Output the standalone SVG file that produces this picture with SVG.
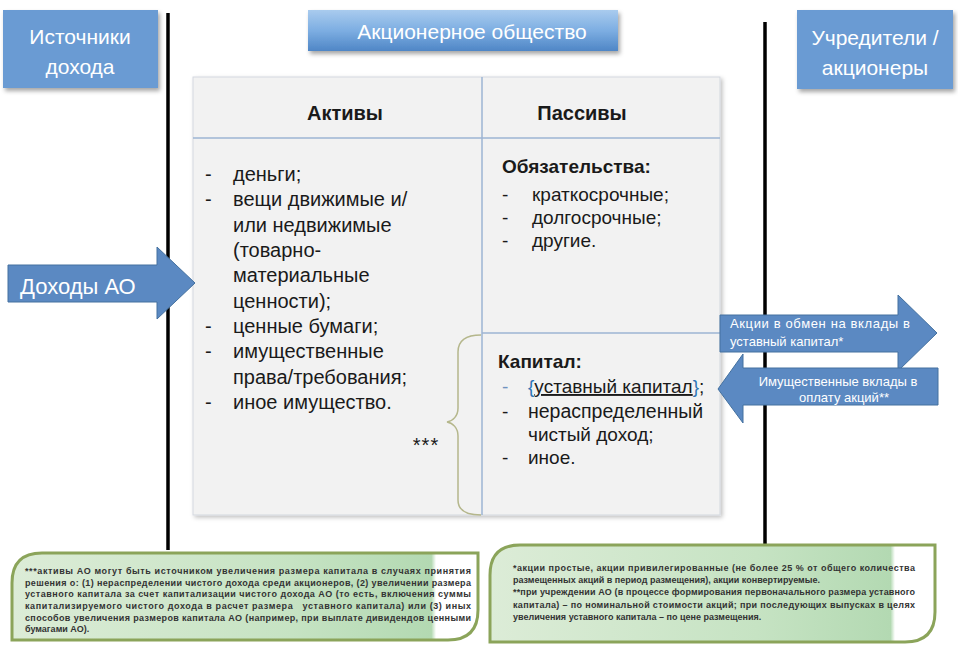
<svg xmlns="http://www.w3.org/2000/svg" width="958" height="650" viewBox="0 0 958 650">
<defs>
<filter id="sh" x="-10%" y="-10%" width="125%" height="130%"><feDropShadow dx="2" dy="3" stdDeviation="2" flood-color="#000" flood-opacity="0.35"/></filter>
<filter id="sh2" x="-5%" y="-5%" width="110%" height="110%"><feDropShadow dx="2" dy="2" stdDeviation="2" flood-color="#000" flood-opacity="0.25"/></filter>
<linearGradient id="gTop" x1="0" y1="0" x2="0" y2="1"><stop offset="0" stop-color="#A9CBEE"/><stop offset="0.5" stop-color="#7DAEE2"/><stop offset="1" stop-color="#4F86C6"/></linearGradient>
<linearGradient id="gGreen" x1="0" y1="0" x2="1" y2="0"><stop offset="0" stop-color="#DCECD7"/><stop offset="0.6" stop-color="#C6E3C3"/><stop offset="0.9" stop-color="#B3D9B2"/><stop offset="0.91" stop-color="#FFFFFF"/><stop offset="1" stop-color="#FFFFFF"/></linearGradient>
</defs>
<style>
.box{fill:#6B9BD3;}
.wt{fill:#FFFFFF;font-family:"Liberation Sans",Arial,sans-serif;}
.t{fill:#1A1A1A;font-family:"Liberation Sans",Arial,sans-serif;font-size:19px;}
.tl{font-size:20px;}
.b{font-weight:bold;}
.arrow{fill:#5B89C2;stroke:#44719F;stroke-width:1;}
.vline{stroke:#000;stroke-width:3.5;}
.div{stroke:#9DB5D3;stroke-width:1.5;fill:none;}
.note{fill:url(#gGreen);stroke:#8BA45A;stroke-width:3;}
.nt{fill:#333333;font-family:"Liberation Sans",Arial,sans-serif;font-size:9px;font-weight:bold;}
</style>

<g id="connectors">
<line class="vline" x1="168" y1="13" x2="168" y2="550"/>
<line class="vline" x1="765" y1="22" x2="765" y2="550"/>
</g>

<g id="sources">
<rect class="box" x="3" y="10" width="155" height="78" filter="url(#sh)"/>
<text class="wt" x="80" y="44" font-size="21" text-anchor="middle">Источники</text>
<text class="wt" x="80" y="74" font-size="21" text-anchor="middle">дохода</text>
</g>

<g id="company">
<rect x="308" y="10" width="310" height="41" fill="url(#gTop)" filter="url(#sh)"/>
<text class="wt" x="472" y="39" font-size="21" text-anchor="middle">Акционерное общество</text>
</g>

<g id="founders">
<rect class="box" x="797" y="10" width="156" height="79" filter="url(#sh)"/>
<text class="wt" x="875" y="45" font-size="21" text-anchor="middle">Учредители /</text>
<text class="wt" x="875" y="75" font-size="21" text-anchor="middle">акционеры</text>
</g>

<g id="balance">
<rect x="193" y="77" width="527" height="438" fill="#F2F2F2" stroke="#D3D8DF" stroke-width="1" filter="url(#sh2)"/>
<line class="div" x1="193" y1="138" x2="720" y2="138"/>
<line class="div" x1="482" y1="77" x2="482" y2="515"/>
<line class="div" x1="482" y1="333" x2="720" y2="333"/>
<text class="t tl b" x="345" y="120" text-anchor="middle">Активы</text>
<text class="t tl b" x="582" y="120" text-anchor="middle">Пассивы</text>
<g class="t tl">
<text x="205" y="181">-</text><text x="233" y="181">деньги;</text>
<text x="205" y="206">-</text><text x="233" y="206">вещи движимые и/</text>
<text x="233" y="232">или недвижимые</text>
<text x="233" y="257">(товарно-</text>
<text x="233" y="282">материальные</text>
<text x="233" y="308">ценности);</text>
<text x="205" y="333">-</text><text x="233" y="333">ценные бумаги;</text>
<text x="205" y="358">-</text><text x="233" y="358">имущественные</text>
<text x="233" y="384">права/требования;</text>
<text x="205" y="409">-</text><text x="233" y="409">иное имущество.</text>
</g>
<g class="t">
<text class="b" x="502" y="173">Обязательства:</text>
<text x="502" y="201">-</text><text x="532" y="201">краткосрочные;</text>
<text x="502" y="224">-</text><text x="532" y="224">долгосрочные;</text>
<text x="502" y="247">-</text><text x="532" y="247">другие.</text>
<text class="b" x="498" y="368">Капитал:</text>
<text x="502" y="393" fill="#6F93BF">-</text><text x="528" y="393"><tspan fill="#2E75B6">{</tspan><tspan text-decoration="underline">уставный капитал</tspan><tspan fill="#2E75B6">}</tspan>;</text>
<text x="502" y="418">-</text><text x="528" y="418" font-size="19.5">нераспределенный</text>
<text x="528" y="441">чистый доход;</text>
<text x="502" y="464">-</text><text x="528" y="464">иное.</text>
</g>
</g>

<g id="brace">
<path d="M481,335 C466,335 458,340 458,352 L458,408 C458,416 453,421 447,422 C453,423 458,428 458,436 L458,500 C458,510 466,515 481,515" fill="none" stroke="#B5B78C" stroke-width="1.5"/>
<text x="426" y="452" font-family="Liberation Sans,Arial,sans-serif" font-size="20" letter-spacing="1" fill="#1A1A1A" text-anchor="middle">***</text>
</g>

<g id="income">
<path class="arrow" d="M8,265 L157,265 L157,247 L195,283 L157,319 L157,302 L8,302 Z"/>
<text class="wt" x="20" y="294" font-size="22">Доходы АО</text>
</g>

<g id="shares">
<path class="arrow" d="M720,315 L898,315 L898,295 L937,333 L898,371 L898,352 L720,352 Z"/>
<text class="wt" x="730" y="328" font-size="13" textLength="180" lengthAdjust="spacing">Акции в обмен на вклады в</text>
<text class="wt" x="730" y="346" font-size="13">уставный капитал*</text>
</g>

<g id="contrib">
<path class="arrow" d="M938,368 L743,368 L743,354 L718,389 L743,423 L743,405 L938,405 Z"/>
<text class="wt" x="838" y="386" font-size="13" text-anchor="middle">Имущественные вклады в</text>
<text class="wt" x="844" y="402" font-size="13" text-anchor="middle">оплату акций**</text>
</g>

<g id="note-left">
<path class="note" d="M42,553 L478,553 L478,610 Q478,640 448,640 L12,640 L12,583 Q12,553 42,553 Z"/>
<g class="nt">
<text x="25" y="574" textLength="446" lengthAdjust="spacing">***активы АО могут быть источником увеличения размера капитала в случаях принятия</text>
<text x="25" y="586" textLength="446" lengthAdjust="spacing">решения о: (1) нераспределении чистого дохода среди акционеров, (2) увеличении размера</text>
<text x="25" y="597" textLength="446" lengthAdjust="spacing">уставного капитала за счет капитализации чистого дохода АО (то есть, включения суммы</text>
<text x="25" y="609" textLength="446" lengthAdjust="spacing">капитализируемого чистого дохода в расчет размера &#160;&#160;уставного капитала) или (3) иных</text>
<text x="25" y="621" textLength="446" lengthAdjust="spacing">способов увеличения размеров капитала АО (например, при выплате дивидендов ценными</text>
<text x="25" y="632">бумагами АО).</text>
</g>
</g>

<g id="note-right">
<path class="note" d="M520,545 L935,545 L935,612 Q935,642 905,642 L490,642 L490,575 Q490,545 520,545 Z"/>
<g class="nt">
<text x="513" y="571" textLength="402" lengthAdjust="spacing">*акции простые, акции привилегированные (не более 25 % от общего количества</text>
<text x="513" y="583">размещенных акций в период размещения), акции конвертируемые.</text>
<text x="513" y="595" textLength="402" lengthAdjust="spacing">**при учреждении АО (в процессе формирования первоначального размера уставного</text>
<text x="513" y="608" textLength="402" lengthAdjust="spacing">капитала) – по номинальной стоимости акций; при последующих выпусках в целях</text>
<text x="513" y="620">увеличения уставного капитала – по цене размещения.</text>
</g>
</g>
</svg>
